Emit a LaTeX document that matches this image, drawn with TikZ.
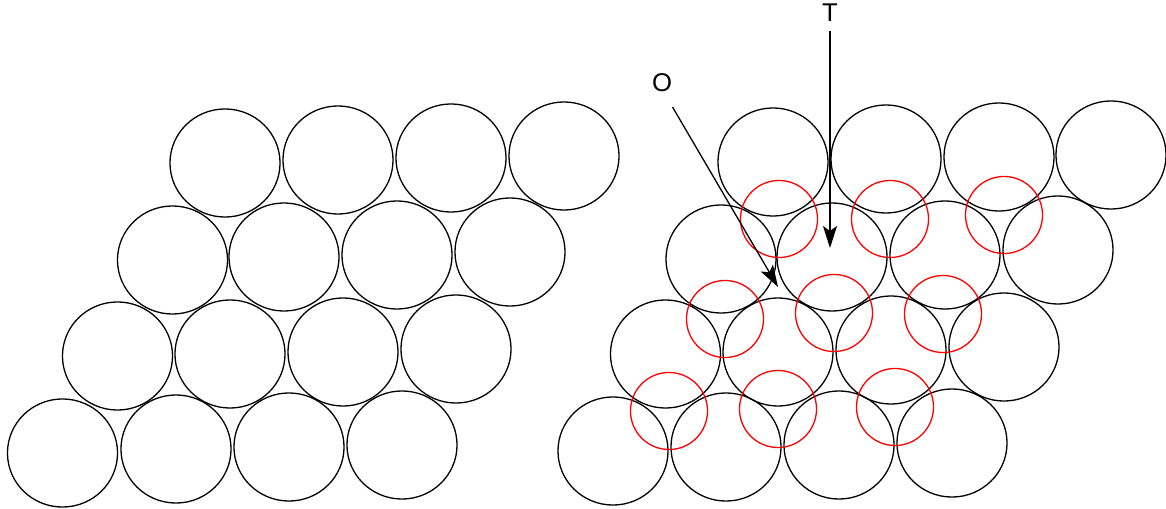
\documentclass[tikz,border=0pt]{standalone}
\usepackage{fontspec}
\setmainfont{Liberation Sans}
\usetikzlibrary{arrows.meta, shapes.geometric}
\tikzset{
  ball/.style={ellipse, inner sep = 0, minimum width = 1.1cm, minimum height = 1.08cm, draw},
  hole/.style={circle, inner sep = 0, minimum size = .77cm, draw = red},
  label text/.style={font=\fontsize{7.3pt}{8pt}\selectfont, inner sep = .09cm},
  probe/.style={-{Stealth[length=.22cm, width=.14cm, inset=.05cm]}}
}

\begin{document}
\begin{tikzpicture}[x=.01cm, y=-.01cm, line width=.013cm]
\useasboundingbox (0, 0) rectangle (1166, 509);
% left layer
\foreach \x/\y in {225/163,338/160,451/158,564/156,172.5/260,284/257,397/255,510/252,117.5/356,230/354,343/352,456/349,62.5/453,176/449,289/447,402/445}
  \node at (\x, \y) [ball] {};
% right layer
\foreach \x/\y in {773/162,886/159,999/157,1111/155,721/259,832/257,945/255,1058/250,665.5/354,778/352,891/350,1004/347,613/451,726/447,839/445,952/443}
  \node at (\x, \y) [ball] {};
% sites
\foreach \x/\y in {779/219,890/219,1004/215,725/319,834/313,943/314,669/411,778/409,895/407}
  \node at (\x, \y) [hole] {};
\node at (830, 13) [name=t, label text] {T};
\node at (662, 83) [name=o, label text] {O};
\coordinate (Ostart) at (672.5, 107);
\coordinate (Tend) at (830, 248);
\coordinate (Oend) at (778, 287);
\draw [probe, line width=.02cm] (t) -- (Tend);
\draw [probe] (Ostart) -- (Oend);
\end{tikzpicture}
\end{document}
